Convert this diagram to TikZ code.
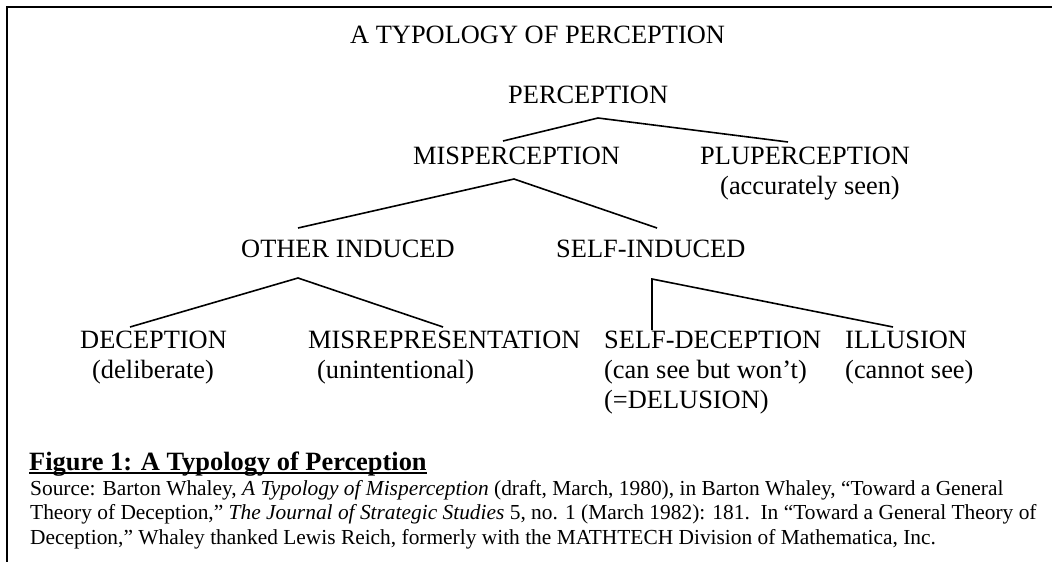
\documentclass[tikz,border=0pt]{standalone}
\usepackage{fontspec}
\setmainfont{Liberation Serif}
\usetikzlibrary{calc}

\begin{document}
\begin{tikzpicture}[x=1pt,y=-1pt,
    lbl/.style={anchor=base west,inner sep=0pt,
      font=\fontsize{26.4}{30}\selectfont},
    src/.style={anchor=base west,inner sep=0pt,
      font=\fontsize{21.4}{24.5}\selectfont},
    link/.style={line width=1.6pt}]
    \useasboundingbox (0,0) rectangle (1052,562);
    \draw[line width=2.4pt] (7,562)--(7,7)--(1052,7);
    \node[lbl] (title) at (350,43) {A TYPOLOGY OF PERCEPTION};
    \foreach \x/\y/\name/\lab in {
      508/103/perc/PERCEPTION,
      413/164/misp/MISPERCEPTION,700/164/plup/PLUPERCEPTION,
      720/194/plupnote/(accurately seen),
      241/257/other/OTHER INDUCED,556/257/self/SELF-INDUCED,
      80/348/dec/DECEPTION,92/378/decnote/(deliberate),
      308/348/misr/MISREPRESENTATION,317/378/misrnote/(unintentional),
      604/348/selfdec/SELF-DECEPTION,604/378/selfdecnote/(can see but won’t),
      604/408/delu/(=DELUSION),
      845/348/ill/ILLUSION,845/378/illnote/(cannot see)}
      {
        \node[lbl] (\name) at (\x,\y) {\lab};
      }
    % fork points and branch ends
    \coordinate (perc-fork) at (598,118);
    \coordinate (misp-top) at (503,141);
    \coordinate (plup-top) at (788,142);
    \coordinate (misp-fork) at (514,179);
    \coordinate (other-top) at (298,228);
    \coordinate (self-top) at (657,228);
    \coordinate (other-fork) at (298,278);
    \coordinate (dec-top) at (130,327);
    \coordinate (misr-top) at (443,327);
    \coordinate (self-fork) at (652,279);
    \coordinate (selfdec-top) at (652,330);
    \coordinate (ill-top) at (893,327);
    \draw[link] (misp-top)--(perc-fork)--(plup-top);
    \draw[link] (other-top)--(misp-fork)--(self-top);
    \draw[link] (dec-top)--(other-fork)--(misr-top);
    \draw[link] (selfdec-top)--(self-fork)--(ill-top);
    % caption and source
    \node[lbl,font=\fontsize{26.4}{30}\selectfont\bfseries] (cap) at (29,470)
      {Figure 1: A Typology of Perception};
    \draw[line width=1.4pt] ($(cap.base west)+(0,3)$)--($(cap.base east)+(0,3)$);
    \node[src] (src1) at (30,495)
      {Source: Barton Whaley, \textit{A Typology of Misperception} (draft, March, 1980), in Barton Whaley, “Toward a General};
    \node[src] (src2) at (30,519.5)
      {Theory of Deception,” \textit{The Journal of Strategic Studies} 5, no. 1 (March 1982): 181.\ \ In “Toward a General Theory of};
    \node[src] (src3) at (30,544)
      {Deception,” Whaley thanked Lewis Reich, formerly with the MATHTECH Division of Mathematica, Inc.};
  \end{tikzpicture}
\end{document}
